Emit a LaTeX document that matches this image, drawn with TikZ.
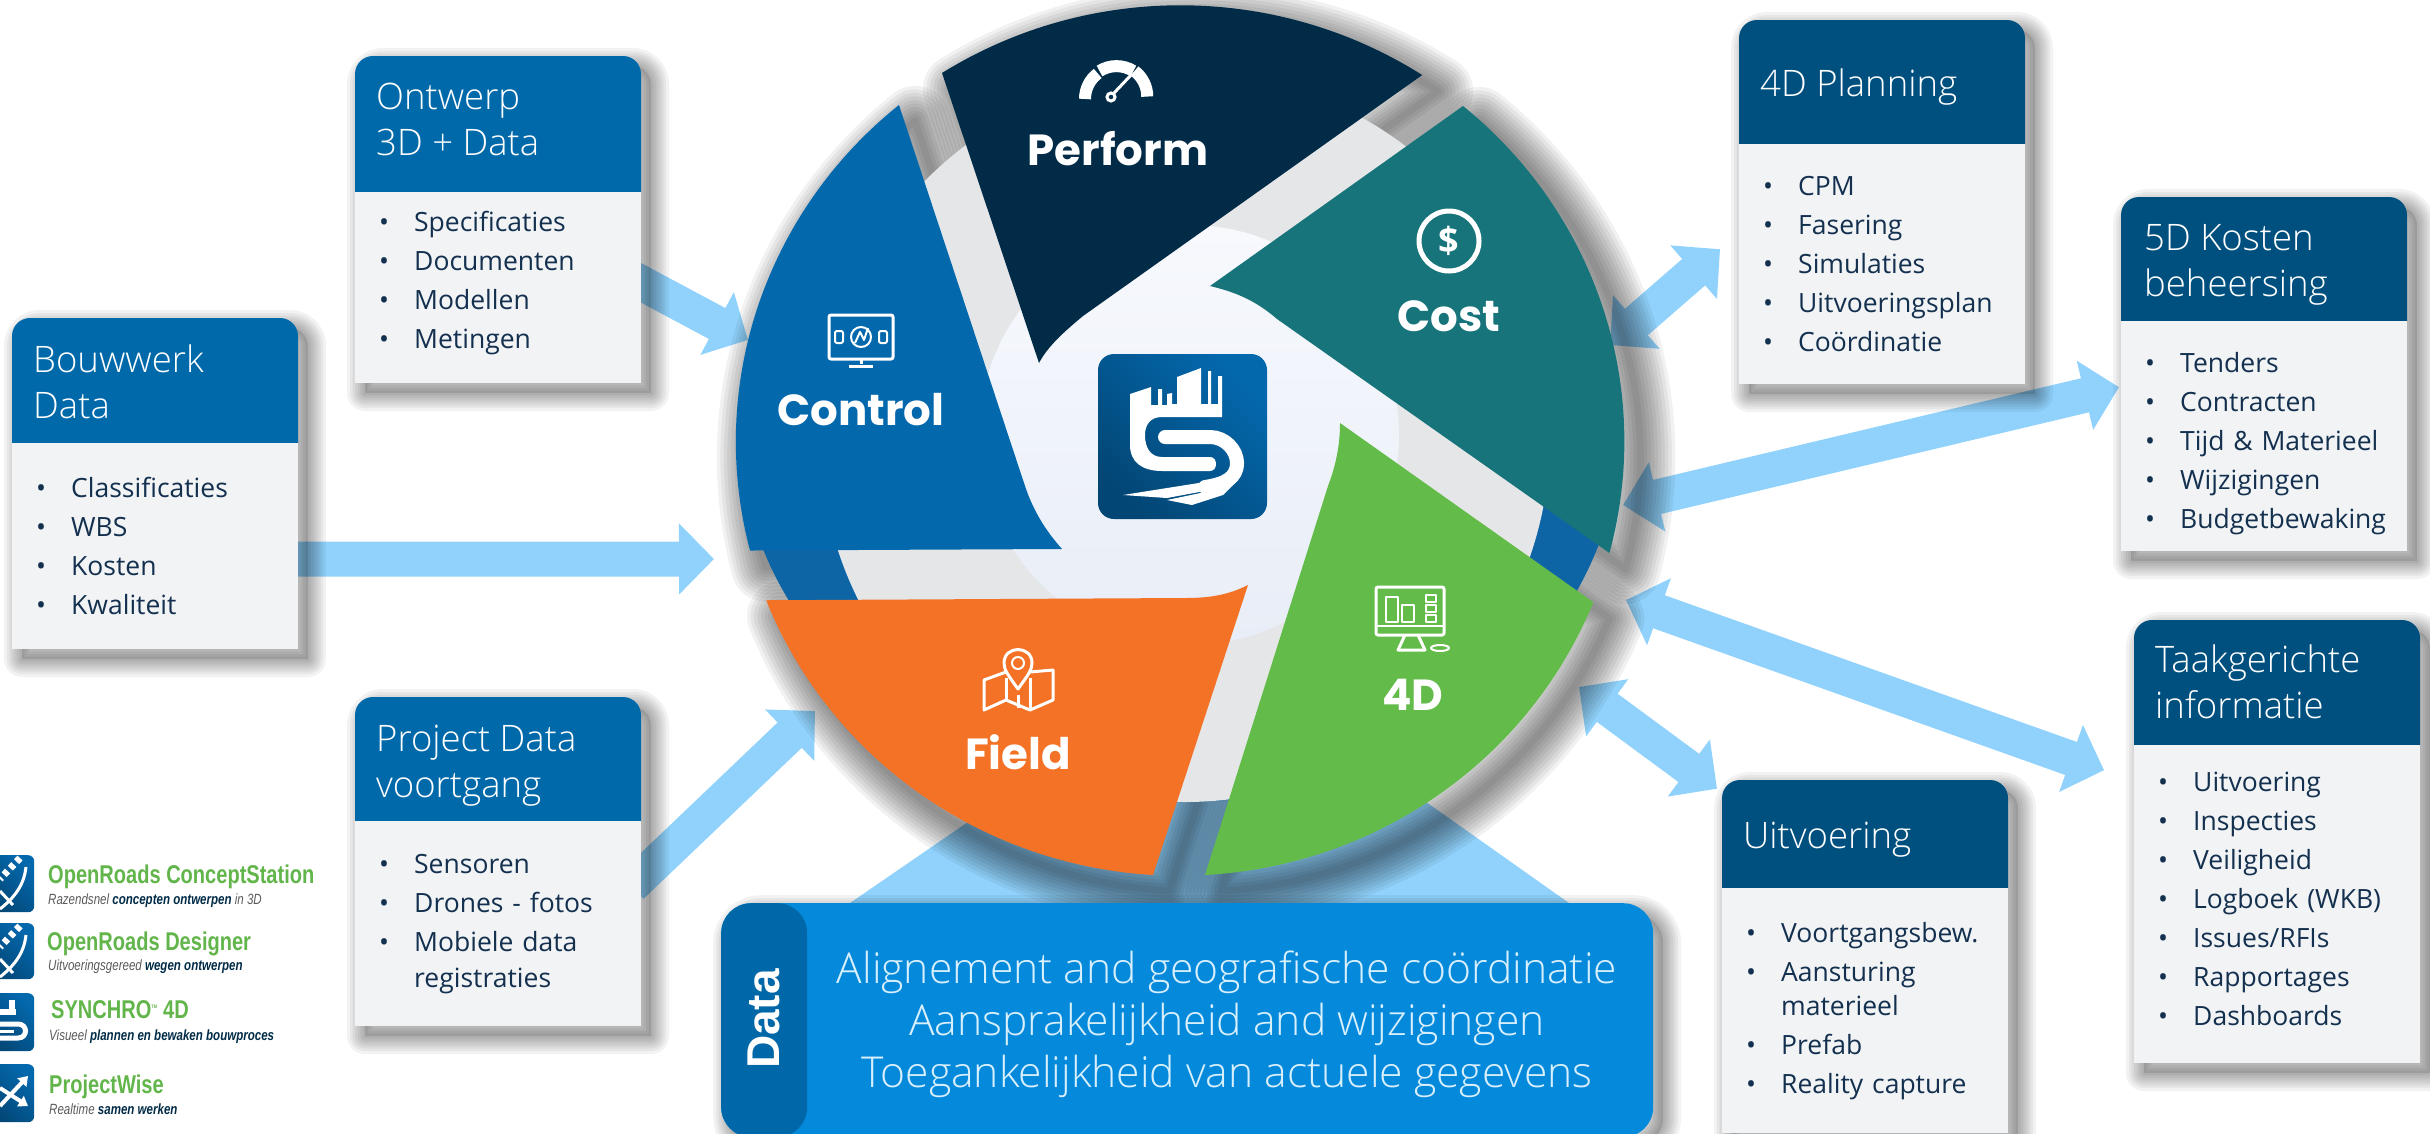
\documentclass[tikz,border=0pt]{standalone}
\usepackage{fontspec}
\setmainfont{Open Sans}
\newfontfamily\lightfont{Open Sans Light}
\newfontfamily\wheelfont{Poppins}
\newfontfamily\logofont[FakeStretch=0.78]{Liberation Sans}
\newfontfamily\datafont{Liberation Sans}
\usetikzlibrary{arrows.meta,backgrounds}

\definecolor{leftblue}{HTML}{0069AA}
\definecolor{rightblue}{HTML}{00507F}
\definecolor{facegray}{HTML}{F1F3F5}
\definecolor{itemnavy}{HTML}{14304F}
\definecolor{flowblue}{HTML}{90D2FC}
\definecolor{performblue}{HTML}{012B47}
\definecolor{controlblue}{HTML}{0468AD}
\definecolor{costteal}{HTML}{17747A}
\definecolor{fourdgreen}{HTML}{63BB49}
\definecolor{fieldorange}{HTML}{F47225}
\definecolor{discgray}{HTML}{E5E6E8}
\definecolor{ringblue}{HTML}{0E65A6}
\definecolor{hubtop}{HTML}{F7F9FD}
\definecolor{hubbottom}{HTML}{E8EDF7}
\definecolor{datablue}{HTML}{0589DB}
\definecolor{datadark}{HTML}{0068A8}
\definecolor{datatext}{HTML}{D8F0FD}
\definecolor{logogreen}{HTML}{62B54A}

\tikzset{
  softcore/.style={fill=black,fill opacity=.12,draw=none,transform canvas={xshift=10pt,yshift=-10pt}},
  softlayer/.style={fill=none,draw=black,draw opacity=.05,line width=#1pt,line join=round,
    transform canvas={xshift=10pt,yshift=-10pt}},
  softshadow/.style={preaction={softcore},preaction={softlayer=36},preaction={softlayer=30},preaction={softlayer=25},preaction={softlayer=20},
    preaction={softlayer=15},preaction={softlayer=10},preaction={softlayer=5}},
  bladelayer/.style={fill=none,draw=black,draw opacity=.055,line width=#1pt,line join=round,
    transform canvas={xshift=16pt,yshift=-16pt}},
  bladeshadow/.style={preaction={bladelayer=70},preaction={bladelayer=63},preaction={bladelayer=56},preaction={bladelayer=49},preaction={bladelayer=42},
    preaction={bladelayer=35},preaction={bladelayer=28},preaction={bladelayer=21},preaction={bladelayer=14},
    preaction={bladelayer=7}},
  cardbody/.style={rectangle,anchor=north west,fill=facegray,
    minimum width=286pt,inner xsep=24pt,inner ysep=0pt,text width=238pt,align=left,
    text=itemnavy,font=\fontsize{26.5}{39}\selectfont},
  cardtitle/.style={anchor=west,inner sep=0pt,align=left,text=white,
    font=\lightfont\fontsize{36.5}{46}\selectfont},
  flowone/.style={line width=35pt,flowblue,-{Triangle[length=35pt,width=69pt]}},
  flowboth/.style={line width=35pt,flowblue,{Triangle[length=35pt,width=69pt]}-{Triangle[length=35pt,width=69pt]}},
  wheeltext/.style={inner sep=0pt,text=white,font=\wheelfont\bfseries\fontsize{43.5}{43.5}\selectfont},
  iconline/.style={draw=white,line width=3pt,line join=round},
  appicon/.style={rectangle,rounded corners=6pt,anchor=north west,inner sep=0pt,
    minimum width=56pt,left color=controlblue,right color=performblue!60!controlblue,shading angle=-45},
  apptitle/.style={anchor=base west,inner sep=0pt,text=logogreen,
    font=\logofont\bfseries\fontsize{25.7}{26}\selectfont},
  appsub/.style={anchor=base west,inner sep=0pt,text=black!65,
    font=\logofont\itshape\fontsize{14.8}{15}\selectfont},
}
\newcommand{\itm}[1]{\makebox[35pt][l]{\textbullet}#1}
\newcommand{\appstrong}[1]{{\bfseries\color{performblue}#1}}
% card outline: x, top, bottom
\newcommand{\cardshade}[3]{\path[softshadow] (#1,#3) [rounded corners=18pt] -- (#1,#2) -- (#1+286,#2) [sharp corners] -- (#1+286,#3) -- cycle;}
% header panel: x, top, bottom, colour
\newcommand{\headpanel}[4]{\fill[#4] (#1,#3) [rounded corners=18pt] -- (#1,#2) -- (#1+286,#2) [sharp corners] -- (#1+286,#3) -- cycle;}
% blade outlines
\newcommand{\performblade}{(942,73) arc[start angle=237.6,end angle=302.9,x radius=445,y radius=435]
    -- (1083,316) .. controls (1060,335) and (1047,348) .. (1039,363) -- cycle}
\newcommand{\controlblade}{(899,105) arc[start angle=230.7,end angle=165.5,x radius=445,y radius=435]
    -- (1062,549) .. controls (1045,530) and (1033,510) .. (1025,486) -- cycle}
\newcommand{\costblade}{(1463,106) arc[start angle=309.6,end angle=374.9,x radius=445,y radius=435]
    -- (1277,319) .. controls (1255,300) and (1235,292) .. (1210,286) -- cycle}
\newcommand{\fieldblade}{(1153,875) arc[start angle=93.5,end angle=158.5,x radius=445,y radius=435]
    -- (1185,598) .. controls (1210,598) and (1228,595) .. (1248,585) -- cycle}
\newcommand{\fourdblade}{(1205,875) arc[start angle=86.8,end angle=21.8,x radius=445,y radius=435]
    -- (1340,423) .. controls (1340,445) and (1336,465) .. (1328,486) -- cycle}

\begin{document}
\begin{tikzpicture}[x=1pt,y=-1pt]
  \useasboundingbox (0,0) rectangle (2430,1133);

  % beam under the wheel
  \fill[flowblue] (850,903) -- (1000,800) -- (1395,780) -- (1569,903) -- cycle;

  % free ends of the arrows
  \coordinate (ontwerptip) at (748,340);
  \coordinate (bouwwerktip) at (714,559);
  \coordinate (projecttip) at (815,711);
  \coordinate (planningport) at (1610,345);
  \coordinate (kostenport) at (1623,505);
  \coordinate (taakport) at (1626,600);
  \coordinate (uitvoeringport) at (1579,687);

  % card shadows
  \cardshade{355}{56}{383}
  \cardshade{12}{318}{649}
  \cardshade{355}{697}{1026}
  \cardshade{1739}{20}{384}
  \cardshade{2121}{197}{551}
  \cardshade{2134}{620}{1063}
  \cardshade{1722}{780}{1133}

  % card headers
  \headpanel{355}{56}{192}{leftblue}
  \node[cardtitle] (ontwerphead) at (376,119) {Ontwerp\\3D + Data};
  \headpanel{12}{318}{443}{leftblue}
  \node[cardtitle] (bouwwerkhead) at (33,382) {Bouwwerk\\Data};
  \headpanel{355}{697}{821}{leftblue}
  \node[cardtitle] (projecthead) at (376,766) {Project Data\\voortgang};
  \headpanel{1739}{20}{144}{rightblue}
  \node[cardtitle] (planninghead) at (1760,87) {4D Planning};
  \headpanel{2121}{197}{321}{rightblue}
  \node[cardtitle] (kostenhead) at (2144,265) {5D Kosten\\beheersing};
  \headpanel{2134}{620}{745}{rightblue}
  \node[cardtitle] (taakhead) at (2155,682) {Taakgerichte\\informatie};
  \headpanel{1722}{780}{888}{rightblue}
  \node[cardtitle] (uitvoeringhead) at (1743,840) {Uitvoering};

  % card bodies
  \node[cardbody,minimum height=191pt] (ontwerp) at (355,192) {\itm{Specificaties}\\\itm{Documenten}\\\itm{Modellen}\\\itm{Metingen}\vspace{10pt}};
  \node[cardbody,minimum height=206pt] (bouwwerk) at (12,443) {\itm{Classificaties}\\\itm{WBS}\\\itm{Kosten}\\\itm{Kwaliteit}};
  \node[cardbody,minimum height=205pt] (project) at (355,821) {\itm{Sensoren}\\\itm{Drones - fotos}\\\itm{Mobiele data}\\[-3pt]\hspace*{35pt}registraties};
  \node[cardbody,minimum height=240pt] (planning) at (1739,144) {\itm{CPM}\\\itm{Fasering}\\\itm{Simulaties}\\\itm{Uitvoeringsplan}\\\itm{Coördinatie}};
  \node[cardbody,minimum height=230pt] (kosten) at (2121,321) {\rule{0pt}{35pt}\itm{Tenders}\\\itm{Contracten}\\\itm{Tijd \& Materieel}\\\itm{Wijzigingen}\\\itm{Budgetbewaking}};
  \node[cardbody,minimum height=318pt] (taak) at (2134,745) {\itm{Uitvoering}\\\itm{Inspecties}\\\itm{Veiligheid}\\\itm{Logboek (WKB)}\\\itm{Issues/RFIs}\\\itm{Rapportages}\\\itm{Dashboards}\vspace{10pt}};
  \node[cardbody,minimum height=245pt] (uitvoering) at (1722,888) {\itm{Voortgangsbew.}\\\itm{Aansturing}\\[-5pt]\hspace*{35pt}materieel\\\itm{Prefab}\\\itm{Reality capture}};

  % arrows
  \begin{scope}[on background layer]
    \draw[flowone] ([shift={(-10,-10)}]ontwerp.east) -- (ontwerptip);
    \draw[flowone] ([shift={(-10,13)}]bouwwerk.east) -- (bouwwerktip);
    \draw[flowone] ([shift={(-10,-37.5)}]project.east) -- (projecttip);
    \draw[flowboth] (planningport) -- ([shift={(-19,-15)}]planning.west);
    \draw[flowboth] (kostenport) -- ([shift={(-2,-49)}]kosten.west);
    \draw[flowboth] (taakport) -- ([shift={(-30,-134)}]taak.west);
    \draw[flowboth] (uitvoeringport) -- ([shift={(-5,-222)}]uitvoering.west);
  \end{scope}

  % blade shadows fall outside the wheel only
  \path[bladeshadow] \performblade;
  \path[bladeshadow] \controlblade;
  \path[bladeshadow] \costblade;
  \path[bladeshadow] \fieldblade;
  \path[bladeshadow] \fourdblade;

  % wheel background
  \fill[ringblue] (1620,430) arc[start angle=0,end angle=180,x radius=440,y radius=372] -- cycle;
  \fill[discgray] (1185,437) circle[radius=365];
  \shade[top color=hubtop,bottom color=hubbottom] (1189,435) circle[radius=210];

  % blades
  \fill[performblue] \performblade;
  \fill[controlblue] \controlblade;
  \fill[costteal] \costblade;
  \fill[fieldorange] \fieldblade;
  \fill[fourdgreen] \fourdblade;

  % centre logo
  \node[rectangle,rounded corners=16pt,minimum width=169pt,minimum height=165pt,inner sep=0pt,
    left color=controlblue,right color=performblue!55!controlblue,shading angle=-45] (logo) at (1182.5,436.5) {};
  \fill[white] (1130,394) -- (1151,387) -- (1151,405) -- (1158,405) -- (1158,389) -- (1162,389) -- (1162,405)
    -- (1167,405) -- (1167,394) -- (1172,393) -- (1172,404) -- (1177,404) -- (1177,377) -- (1201,368)
    -- (1201,404) -- (1208,404) -- (1208,371) -- (1211,371) -- (1211,404) -- (1218,404) -- (1218,376)
    -- (1222,376) -- (1222,417) -- (1162,417) .. controls (1150,417) and (1145,425) .. (1145,435)
    .. controls (1145,447) and (1150,457) .. (1162,457) -- (1210,457) .. controls (1218,457) and (1218,471) .. (1210,471)
    -- (1162,471) .. controls (1142,471) and (1130,462) .. (1130,445) -- cycle;
  \draw[white,line width=14pt,line cap=round] (1165,437) -- (1210,437) .. controls (1225,437) and (1237,450) .. (1237,463)
    .. controls (1237,478) and (1225,484) .. (1205,487);
  \fill[white] (1123,495) -- (1205,482) -- (1210,490) -- (1167,498) -- cycle;
  \fill[white] (1167,500) -- (1192,505) -- (1223,495) -- (1238,480) -- (1210,491) -- cycle;

  % wheel labels
  \node[wheeltext] (performlabel) at (1118,149) {Perform};
  \node[wheeltext] (controllabel) at (861,410) {Control};
  \node[wheeltext] (costlabel) at (1449,316) {Cost};
  \node[wheeltext] (fieldlabel) at (1018,752) {Field};
  \node[wheeltext] (fourdlabel) at (1413,695) {4D};

  % gauge
  \draw[white,line width=12pt] (1085,99) arc[start angle=180,end angle=233,radius=32];
  \draw[white,line width=12pt] (1099.5,71) arc[start angle=238,end angle=302,radius=32];
  \draw[white,line width=12pt] (1134.5,71) arc[start angle=307,end angle=360,radius=32];
  \draw[white,line width=3pt] (1114,93) -- (1132,74);
  \draw[white,line width=3pt] (1111,97) circle[radius=4];
  % dollar
  \draw[white,line width=5pt] (1449,241) circle[radius=30];
  \node[inner sep=0pt,text=white,font=\bfseries\fontsize{36}{36}\selectfont] (dollar) at (1449,241) {\$};
  % control monitor
  \draw[iconline,rounded corners=2pt] (829,315) rectangle (893,359);
  \draw[iconline] (861,359) -- (861,364) (849,366) -- (873,366);
  \draw[iconline,line width=2pt,rounded corners=2pt] (835,331) rectangle (843,343) (879,331) rectangle (887,343);
  \draw[iconline,line width=2pt] (861,337) circle[radius=10];
  \draw[iconline,line width=2pt] (855,343) -- (860,332) -- (864,340) -- (868,328);
  % map
  \draw[iconline] (1006,672) -- (984,680) -- (984,710) -- (1006,700) -- (1030,710) -- (1053,700) -- (1053,670) -- (1030,672);
  \draw[iconline] (1006,678) -- (1006,700) (1030,678) -- (1030,710);
  \draw[iconline] (1018,689) .. controls (1008,675) and (1004,670) .. (1004,663) .. controls (1004,645) and (1032,645) .. (1032,663) .. controls (1032,670) and (1028,675) .. (1018,689) -- cycle;
  \draw[iconline,line width=2pt] (1018,663) circle[radius=6];
  \draw[iconline] (1018,695) -- (1018,708);
  % 4D monitor
  \draw[iconline,rounded corners=2pt] (1376,587) rectangle (1444,635);
  \draw[iconline,line width=2pt] (1376,626) -- (1444,626);
  \draw[iconline,line width=2pt] (1386,597) rectangle (1398,622) (1402,605) rectangle (1414,622);
  \draw[iconline,line width=2pt] (1426,595) rectangle (1436,602) (1426,605) rectangle (1436,612) (1426,615) rectangle (1436,622);
  \draw[iconline] (1405,635) -- (1398,650) -- (1425,650) -- (1418,635);
  \draw[iconline,line width=2pt] (1440,648) ellipse[x radius=9,y radius=3];

  % data panel
  \node[rectangle,anchor=north west,inner sep=0pt,minimum width=932pt,minimum height=234pt,
    rounded corners=30pt,fill=datablue,softshadow,
    path picture={\fill[datadark] (path picture bounding box.north west) rectangle ([xshift=86pt]path picture bounding box.south west);}] (datapanel) at (721,903) {};
  \node[rotate=90,inner sep=0pt,text=white,font=\datafont\bfseries\fontsize{46}{46}\selectfont] (datalabel) at (764,1019) {Data};
  \node[inner sep=0pt,align=center,text=datatext,font=\lightfont\fontsize{42.6}{52}\selectfont] (datatext) at (1227,1024)
    {Alignement and geografische coördinatie\\Aansprakelijkheid and wijzigingen\\Toegankelijkheid van actuele gegevens};

  % product logos, left edge
  \node[appicon,minimum height=57pt] (conceptstationicon) at (-22,855) {};
  \node[appicon,minimum height=56pt] (designericon) at (-22,923) {};
  \node[appicon,minimum height=58pt] (synchroicon) at (-22,993) {};
  \node[appicon,minimum height=58pt] (projectwiseicon) at (-22,1064) {};
  \foreach \top in {855,923} {
    \draw[white,line width=3pt] (26,\top+12) .. controls (24,\top+30) and (15,\top+42) .. (0,\top+54);
    \draw[white,line width=7pt,dash pattern=on 5pt off 4pt] (20,\top+3) -- (0,\top+24);
    \draw[white,line width=3pt] (0,\top+36) -- (13,\top+50);
  }
  \draw[white,line width=6pt] (0,1012) -- (16,1012) (12,1000) -- (12,1012);
  \draw[white,line width=5pt] (0,1024) -- (18,1024) .. controls (28,1024) and (28,1038) .. (18,1038) -- (0,1038);
  \draw[white,line width=3pt] (14,1031) -- (0,1031);
  \draw[white,line width=4pt,-{Triangle[length=9pt,width=12pt]}] (0,1106) -- (28,1076);
  \draw[white,line width=4pt,-{Triangle[length=9pt,width=12pt]}] (0,1088) -- (28,1106);

  \node[apptitle] (conceptstationname) at (48,883) {OpenRoads ConceptStation};
  \node[appsub] (conceptstationsub) at (48,904) {Razendsnel \appstrong{concepten ontwerpen} in 3D};
  \node[apptitle] (designername) at (47,950) {OpenRoads Designer};
  \node[appsub] (designersub) at (48,970) {Uitvoeringsgereed \appstrong{wegen ontwerpen}};
  \node[apptitle] (synchroname) at (51,1018) {SYNCHRO\textsuperscript{\tiny TM} 4D};
  \node[appsub] (synchrosub) at (49,1040) {Visueel \appstrong{plannen en bewaken bouwproces}};
  \node[apptitle] (projectwisename) at (49,1093) {ProjectWise};
  \node[appsub] (projectwisesub) at (49,1114) {Realtime \appstrong{samen werken}};
\end{tikzpicture}
\end{document}
